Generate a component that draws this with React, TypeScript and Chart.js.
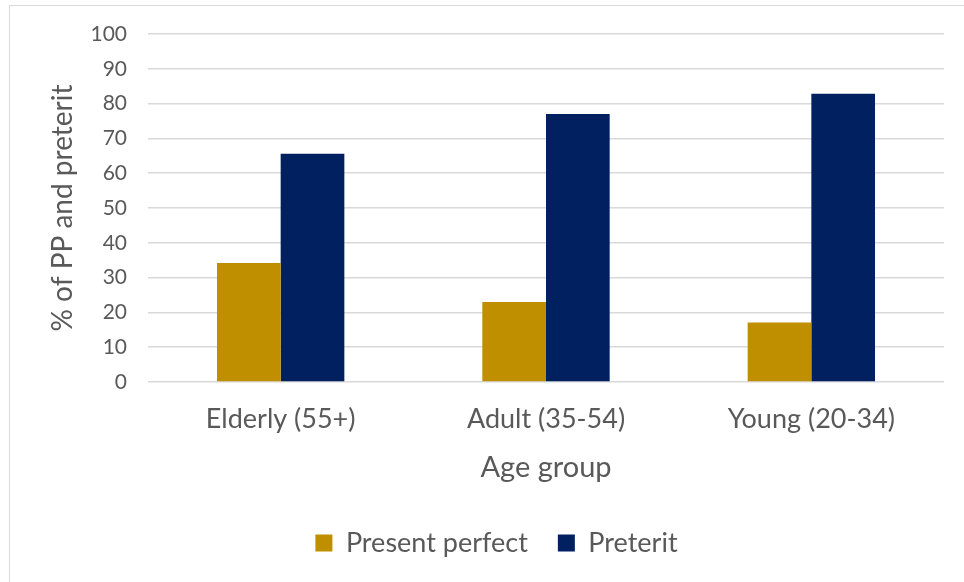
import { useEffect, useRef } from "react";
import { Chart, registerables } from "chart.js";

Chart.register(...registerables);

// Share of present perfect vs. preterit use, by speaker age group (%)
const ageGroups = ["Elderly (55+)", "Adult (35-54)", "Young (20-34)"];
const presentPerfect = [34.2, 23.0, 17.1];
const preterit = [65.6, 77.0, 82.8];
const seriesNames = ["Present perfect", "Preterit"];

const yMin = 0;
const yMax = 100;
const yStep = 10;

const TEXT = "#595959";
const GRID = "#d9d9d9";
const FONT = "Lato, 'Open Sans', sans-serif";

export default function App() {
  const canvasRef = useRef<HTMLCanvasElement | null>(null);

  useEffect(() => {
    const canvas = canvasRef.current;
    if (!canvas) return;
    const chart = new Chart(canvas, {
      type: "bar",
      data: {
        labels: ageGroups,
        datasets: [
          {
            label: seriesNames[0],
            data: presentPerfect,
            backgroundColor: "#bf8f00",
            borderWidth: 0,
            categoryPercentage: 0.48,
            barPercentage: 1,
          },
          {
            label: seriesNames[1],
            data: preterit,
            backgroundColor: "#002060",
            borderWidth: 0,
            categoryPercentage: 0.48,
            barPercentage: 1,
          },
        ],
      },
      options: {
        responsive: false,
        animation: false,
        devicePixelRatio: 1,
        layout: { padding: { left: 49, top: 34, right: 20, bottom: 15.5 } },
        plugins: {
          tooltip: { enabled: false },
          legend: {
            position: "bottom",
            labels: {
              boxWidth: 17,
              boxHeight: 17,
              padding: 30,
              color: TEXT,
              font: { family: FONT, size: 27 },
            },
          },
        },
        scales: {
          x: {
            grid: { display: false, drawTicks: false },
            border: { display: false },
            ticks: {
              color: TEXT,
              font: { family: FONT, size: 27 },
              padding: 21,
            },
            title: {
              display: true,
              text: "Age group",
              color: TEXT,
              font: { family: FONT, size: 29 },
              padding: { top: 0, bottom: 14 },
            },
            afterFit: (scale: any) => {
              scale.height = 117.5;
            },
          },
          y: {
            min: yMin,
            max: yMax,
            grid: { color: GRID, lineWidth: 1.5, drawTicks: false },
            border: { display: false },
            ticks: {
              stepSize: yStep,
              color: TEXT,
              font: { family: FONT, size: 21 },
              padding: 21,
            },
            title: {
              display: true,
              text: "% of PP and preterit",
              color: TEXT,
              font: { family: FONT, size: 28 },
              padding: { top: -3, bottom: 0 },
            },
            afterFit: (scale: any) => {
              scale.width = 99;
            },
          },
        },
      },
    });
    return () => chart.destroy();
  }, []);

  return (
    <div
      style={{
        position: "fixed",
        left: 0,
        top: 0,
        width: 964,
        height: 582,
        overflow: "hidden",
        background: "#ffffff",
      }}
    >
      <div
        style={{
          position: "absolute",
          left: 9,
          top: 5,
          width: 1000,
          height: 1000,
          border: "1px solid #d9d9d9",
          boxSizing: "border-box",
        }}
      />
      <canvas
        ref={canvasRef}
        width={964}
        height={582}
        style={{ position: "absolute", left: 0, top: 0, width: 964, height: 582 }}
      />
    </div>
  );
}
